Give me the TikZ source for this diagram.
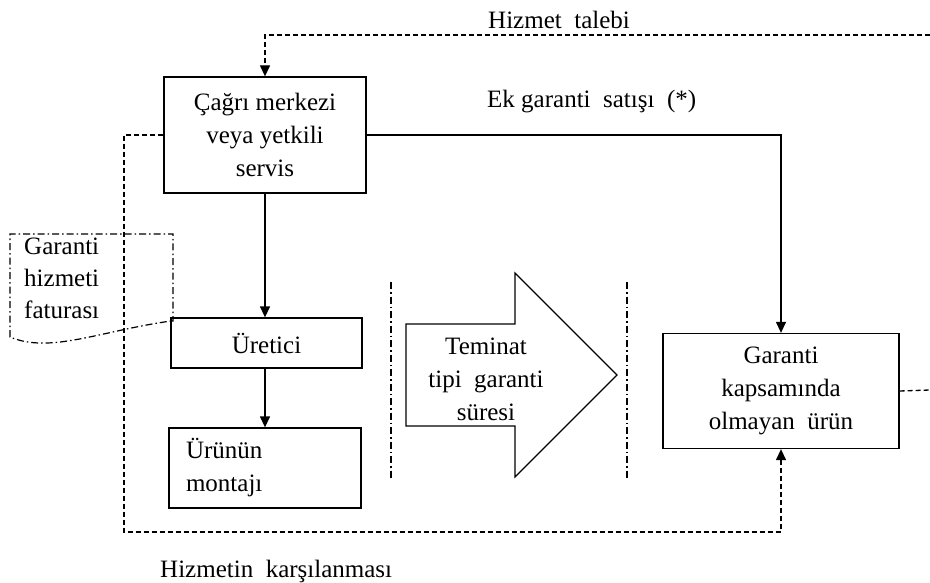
\documentclass[tikz,border=0pt]{standalone}
\usepackage{fontspec}
\setmainfont{Liberation Serif}
\usetikzlibrary{arrows.meta}
\begin{document}
\begin{tikzpicture}[x=1pt,y=-1pt,
  every node/.style={font=\fontsize{25}{33}\selectfont, inner sep=0pt},
  box/.style={draw, line width=1.3pt, align=center},
  solidcon/.style={line width=1.3pt, -{Triangle[length=11pt,width=10pt]}},
  dashcon/.style={line width=1.3pt, dash pattern=on 5pt off 3pt},
  dashdotline/.style={line width=1.2pt, dash pattern=on 7pt off 3pt on 1.5pt off 3pt},
  tip/.style={-{Triangle[length=11pt,width=10pt]}}
]
\useasboundingbox (0,0) rectangle (930,583);

% boxes
\node[box, minimum width=202pt, minimum height=116pt] (call) at (265,135)
  {Çağrı merkezi\\veya yetkili\\servis};
\node[box, minimum width=191pt, minimum height=50pt] (ure) at (266.5,343) {Üretici};
\node[box, minimum width=192pt, minimum height=80pt, text width=158pt, align=left] (mon) at (265,468)
  {Ürünün\\montajı};
\node[box, minimum width=236pt, minimum height=115pt] (gar) at (781,391)
  {Garanti\\kapsamında\\olmayan\ \ ürün};

% big arrow
\draw[line width=1.2pt] (406,324) -- (515,324) -- (515,273) -- (617,375) -- (515,477)
  -- (515,426) -- (406,426) -- cycle;
\node[align=center] (term) at (486,379) {Teminat\\tipi\ \ garanti\\süresi};

% vertical dash-dot separators
\draw[dashdotline] (391,282) -- (391,478);
\draw[dashdotline] (627,282) -- (627,478);

% document shape
\draw[dashdotline] (171,321) -- (173,321) -- (173,234) -- (10,234) -- (10,337)
  .. controls (50,354) and (100,331) .. (171,321);
\node[align=left, anchor=north west, font=\fontsize{25}{32}\selectfont] (fat) at (24,238)
  {Garanti\\hizmeti\\faturası};

% labels
\node[anchor=west] (lblreq) at (488,20) {Hizmet\ \ talebi};
\node[anchor=west] (lblek) at (487,102) {Ek garanti\ \ satışı\ \ (*)};
\node[anchor=west] (lblmeet) at (160,571) {Hizmetin\ \ karşılanması};

% connectors
\coordinate (topR) at (930,35);
\coordinate (botL) at (124,532);
\coordinate (rightR) at (930,390);

\draw[dashcon, tip] (topR) -| (call.north);
\draw[solidcon] (call.east) -| (gar.north);
\draw[solidcon] (call.south) -- (call.south |- ure.north);
\draw[solidcon] (call.south |- ure.south) -- (call.south |- mon.north);
\draw[dashcon, tip] (call.west) -| (botL) -| (gar.south);
\draw[dashcon] (gar.east) -- (rightR);
\end{tikzpicture}
\end{document}
